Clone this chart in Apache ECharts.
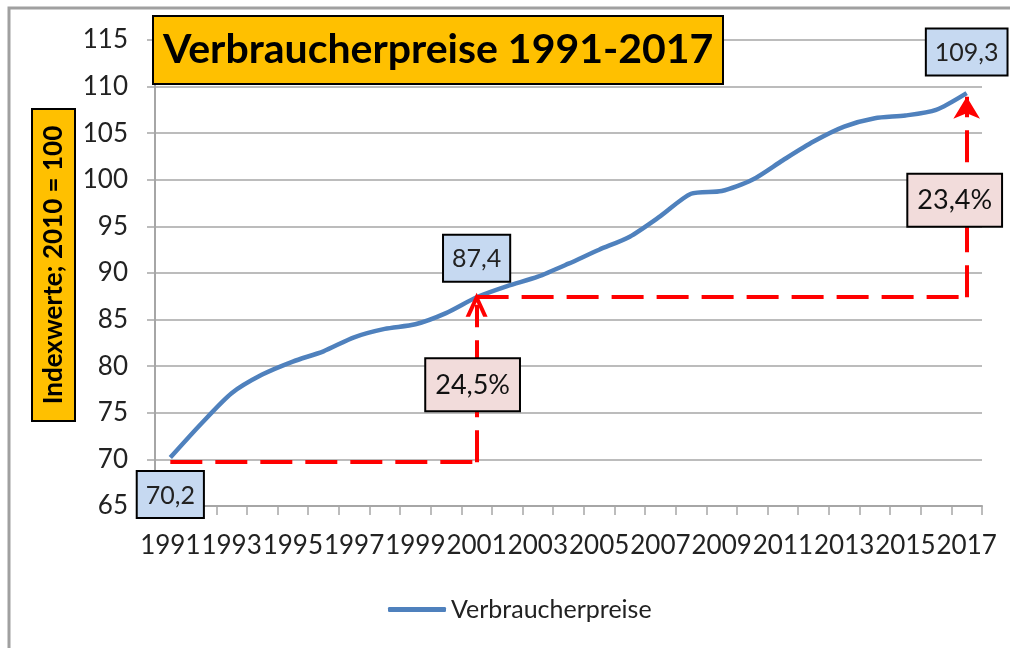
<!DOCTYPE html>
<html>
<head>
<meta charset="utf-8">
<script src="https://cdn.jsdelivr.net/npm/echarts@6/dist/echarts.min.js"></script>
<style>
html,body{margin:0;padding:0;background:#fff;}
#chart{width:1010px;height:648px;}
</style>
</head>
<body>
<div id="chart"></div>
<script>
var years = ['1991','1992','1993','1994','1995','1996','1997','1998','1999','2000','2001','2002','2003','2004','2005','2006','2007','2008','2009','2010','2011','2012','2013','2014','2015','2016','2017'];
var cpi = [70.2,73.8,77.1,79.1,80.5,81.6,83.1,84.0,84.5,85.7,87.4,88.6,89.6,91.0,92.5,93.9,96.1,98.5,98.8,100.0,102.1,104.1,105.7,106.6,106.9,107.5,109.3];
var yTicks = {min:65, max:115, interval:5};
var labelYears = ['1991','2001','2017'];
var labelValues = [70.2, 87.4, 109.3];
var pctLabels = ['24,5%','23,4%'];
var pctYears = ['2001','2017'];
var pctLevels = [78.0, 97.8];
var baseLevel = 69.7;

var FONT = 'Lato';
var chart = echarts.init(document.getElementById('chart'));

function fmt(v){ return String(v).replace('.', ','); }

var valueData = labelYears.map(function(y, i){
  var below = i === 0;
  return {
    value: [y, labelValues[i]],
    label: {
      show: true,
      position: below ? 'bottom' : 'top',
      distance: below ? 14 : (i === 1 ? 16 : 18),
      formatter: fmt(labelValues[i]),
      fontFamily: FONT, fontSize: 25, color: '#222',
      backgroundColor: '#C6D9F1', borderColor: '#000', borderWidth: 2,
      padding: [11, 8, 9, 8]
    }
  };
});

var pctData = pctYears.map(function(y, i){
  return {
    value: [y, pctLevels[i]],
    label: {
      show: true, position: 'inside',
      offset: [i === 0 ? -4 : -12, 0],
      formatter: pctLabels[i],
      fontFamily: FONT, fontSize: 27, color: '#111',
      backgroundColor: '#F2DCDB', borderColor: '#000', borderWidth: 2,
      padding: [13, 9, 11, 9]
    }
  };
});

var option = {
  animation: false,
  backgroundColor: '#fff',
  textStyle: {fontFamily: FONT},
  grid: {left: 155, right: 28, top: 40, bottom: 142, containLabel: false},
  title: {
    text: 'Verbraucherpreise 1991-2017',
    left: 153, top: 16,
    backgroundColor: '#FFC000', borderColor: '#000', borderWidth: 2,
    padding: [12, 10, 12, 10],
    textStyle: {fontFamily: FONT, fontSize: 41, lineHeight: 44, fontWeight: 'bold', color: '#000'}
  },
  legend: {
    left: 383, top: 592,
    icon: 'roundRect',
    itemWidth: 58, itemHeight: 5, itemGap: 6,
    textStyle: {fontFamily: FONT, fontSize: 25, color: '#222'},
    data: ['Verbraucherpreise']
  },
  xAxis: {
    type: 'category',
    data: years,
    boundaryGap: true,
    axisLine: {lineStyle: {color: '#A6A6A6', width: 2}},
    axisTick: {show: true, interval: 0, length: 9, lineStyle: {color: '#A6A6A6', width: 1.5}},
    axisLabel: {interval: 1, fontFamily: FONT, fontSize: 26, color: '#222', margin: 27}
  },
  yAxis: {
    type: 'value',
    min: yTicks.min, max: yTicks.max, interval: yTicks.interval,
    axisLine: {show: true, lineStyle: {color: '#A6A6A6', width: 2}},
    axisTick: {show: true, length: 8, lineStyle: {color: '#A6A6A6', width: 1.5}},
    axisLabel: {fontFamily: FONT, fontSize: 26, color: '#222', margin: 27},
    splitLine: {lineStyle: {color: '#A6A6A6', width: 1.5}}
  },
  graphic: [
    {type: 'polyline', shape: {points: [[9, 700], [9, 8], [1100, 8]]}, style: {stroke: '#A0A0A0', lineWidth: 3, fill: null}, z: 0},
    {type: 'group', left: 31, top: 108, children: [
      {type: 'rect', shape: {x: 0, y: 0, width: 43, height: 312}, style: {fill: '#FFC000', stroke: '#000', lineWidth: 2}},
      {type: 'text', x: 22, y: 156, rotation: Math.PI / 2,
       style: {text: 'Indexwerte; 2010 = 100', fontFamily: FONT, fontSize: 26, fontWeight: 'bold', fill: '#000', align: 'center', verticalAlign: 'middle'}}
    ]}
  ],
  series: [
    {
      name: 'Verbraucherpreise',
      type: 'line',
      data: cpi,
      symbol: 'none',
      smooth: 0.25,
      lineStyle: {color: '#4F81BD', width: 4.5},
      itemStyle: {color: '#4F81BD'},
      z: 3,
      markLine: {
        silent: true,
        symbol: ['none', 'none'],
        animation: false,
        label: {show: false},
        lineStyle: {color: '#FF0000', width: 4, type: [32, 13]},
        data: [
          [{coord: [years[0], baseLevel], symbol: 'none'}, {coord: ['2001', baseLevel], symbol: 'none'}],
          [{coord: ['2001', baseLevel], symbol: 'none'}, {coord: ['2001', labelValues[1] - 0.8], symbol: 'path://M0,20 L10,0 L20,20 L16,20 L10,8 L4,20 Z', symbolSize: [22, 24]}],
          [{coord: ['2001', labelValues[1]], symbol: 'none'}, {coord: ['2017', labelValues[1]], symbol: 'none'}],
          [{coord: ['2017', labelValues[1]], symbol: 'none'}, {coord: ['2017', labelValues[2] - 0.4], symbol: 'arrow', symbolSize: [20, 22]}]
        ]
      }
    },
    {
      name: 'values',
      type: 'scatter',
      data: valueData,
      symbolSize: 1,
      itemStyle: {color: 'rgba(0,0,0,0)', opacity: 1},
      z: 11,
      silent: true
    },
    {
      name: 'pct',
      type: 'scatter',
      data: pctData,
      symbolSize: 1,
      itemStyle: {color: 'rgba(0,0,0,0)', opacity: 1},
      z: 10,
      silent: true
    }
  ]
};
chart.setOption(option);
</script>
</body>
</html>
